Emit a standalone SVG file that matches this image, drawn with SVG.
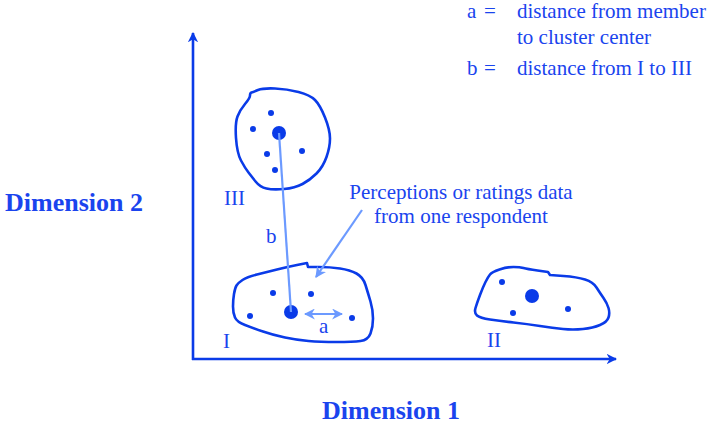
<svg xmlns="http://www.w3.org/2000/svg" width="709" height="427" viewBox="0 0 709 427">
<style>
.t{font-family:"Liberation Serif","Times New Roman",serif;fill:#1a44ee;font-size:21px}
.b{font-weight:bold;font-size:26px}
.blob{fill:none;stroke:#0a3be8;stroke-width:2.6;stroke-linejoin:round}
.dot{fill:#0a3be8}
.axis{stroke:#0a3be8;stroke-width:2.6;fill:none}
.lt{stroke:#6c9aff;stroke-width:2.2;fill:none}
</style>
<defs>
<marker id="ah" viewBox="0 0 10 10" refX="9" refY="5" markerWidth="4" markerHeight="4" orient="auto-start-reverse"><path d="M0,0 L10,5 L0,10 L3,5 z" fill="#0a3be8"/></marker>
<marker id="lh" viewBox="0 0 10 10" refX="9" refY="5" markerWidth="5" markerHeight="5" orient="auto-start-reverse"><path d="M0,0 L10,5 L0,10 L3,5 z" fill="#6c9aff"/></marker>
</defs>
<g id="axes">
<line class="axis" x1="193" y1="360" x2="193" y2="33" marker-end="url(#ah)"/>
<line class="axis" x1="192" y1="359" x2="616" y2="359" marker-end="url(#ah)"/>
</g>
<g id="cluster-III">
<path class="blob" d="M245,104 Q250,98 250,95.5 Q250,93 251.5,92.5 Q253,92 258,90 Q263,88 275,88.5 Q287,89 298.5,92 Q310,95 315,100 Q320,105 325,117.5 Q330,130 330,138.5 Q330,147 326.5,157 Q323,167 316.5,173.5 Q310,180 302.5,184 Q295,188 284,189 Q273,190 266.5,188.5 Q260,187 256,182 Q252,177 248.5,172.5 Q245,168 241,160.5 Q237,153 236,138 Q235,123 237.5,116.5 Q240,110 245,104 Z"/>
<circle class="dot" cx="279" cy="133" r="7"/>
<circle class="dot" cx="271" cy="113" r="3"/>
<circle class="dot" cx="253" cy="129" r="3"/>
<circle class="dot" cx="267" cy="154" r="3"/>
<circle class="dot" cx="302" cy="151" r="3"/>
<circle class="dot" cx="275" cy="170" r="3"/>
<text class="t" x="224" y="205">III</text>
</g>
<g id="cluster-I">
<path class="blob" d="M236.5,285.5 Q238,283 242.5,280 Q247,277 257,274.5 Q267,272 277,269.5 Q287,267 297,265 L307,263 L308,267 L319,267 Q330,267 340,268.5 Q350,270 356.5,273.5 Q363,277 365.5,285 Q368,293 370.5,301.5 Q373,310 373,318.5 Q373,327 370.5,333.5 Q368,340 360.5,341 Q353,342 336.5,342 Q320,342 308.5,341 Q297,340 285,337.5 Q273,335 263,331.5 Q253,328 245,325 Q237,322 235,317.5 Q233,313 233,306.5 Q233,300 234,294 Q235,288 236.5,285.5 Z"/>
<circle class="dot" cx="291" cy="312" r="7"/>
<circle class="dot" cx="273" cy="293" r="3"/>
<circle class="dot" cx="311" cy="294" r="3"/>
<circle class="dot" cx="250" cy="316" r="3"/>
<circle class="dot" cx="352" cy="318" r="3"/>
<text class="t" x="223" y="348">I</text>
</g>
<g id="cluster-II">
<path class="blob" d="M490,274.5 Q492,272 499.5,269.5 Q507,267 513.5,267 Q520,267 523.5,268 Q527,269 537.5,270.5 L548,272 L550,275 L563.5,276 Q577,277 585,279.5 Q593,282 596.5,287.5 Q600,293 603.5,298 Q607,303 608.5,308 Q610,313 608.5,317.5 Q607,322 600,325 Q593,328 583,329 Q573,330 563,329 Q553,328 540,326 Q527,324 513.5,322.5 Q500,321 490,319.5 Q480,318 477,315.5 Q474,313 475.5,308 Q477,303 480,295 Q483,287 485.5,282 Q488,277 490,274.5 Z"/>
<circle class="dot" cx="532" cy="296" r="7"/>
<circle class="dot" cx="502" cy="282" r="3"/>
<circle class="dot" cx="513" cy="313" r="3"/>
<circle class="dot" cx="568" cy="309" r="3"/>
<text class="t" x="487" y="347">II</text>
</g>
<g id="connectors">
<line class="lt" x1="279" y1="133" x2="291" y2="312"/>
<line class="lt" x1="305" y1="314" x2="342" y2="314" marker-start="url(#lh)" marker-end="url(#lh)"/>
<line class="lt" x1="362" y1="210" x2="316" y2="277" marker-end="url(#lh)"/>
</g>
<g id="labels">
<text class="t" x="266" y="243">b</text>
<text class="t" x="319" y="333">a</text>
<text class="t" x="461" y="199" text-anchor="middle">Perceptions or ratings data</text>
<text class="t" x="461" y="223" text-anchor="middle">from one respondent</text>
<text class="t b" x="5" y="211">Dimension 2</text>
<text class="t b" x="391" y="419" text-anchor="middle">Dimension 1</text>
</g>
<g id="legend">
<text class="t" x="467" y="18">a</text>
<text class="t" x="484" y="18">=</text>
<text class="t" x="517" y="18">distance from member</text>
<text class="t" x="517" y="44">to cluster center</text>
<text class="t" x="467" y="75">b</text>
<text class="t" x="484" y="75">=</text>
<text class="t" x="517" y="75">distance from I to III</text>
</g>
</svg>
